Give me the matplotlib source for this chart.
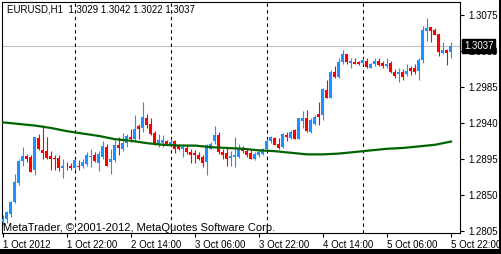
import matplotlib
matplotlib.use('Agg')
import matplotlib.pyplot as plt
import matplotlib.transforms as mtransforms
from matplotlib.patches import Rectangle
import numpy as np

plt.rcParams['font.family'] = ['Liberation Sans', 'DejaVu Sans']

# EURUSD H1, hourly bars from 1 Oct 2012 06:00 to 5 Oct 2012 22:00
opens = [
    1.2816, 1.2820, 1.2827, 1.2842, 1.2865, 1.2893, 1.2899, 1.2898, 1.2881, 1.2922,
    1.2906, 1.2905, 1.2899, 1.2896, 1.2896, 1.2884, 1.2887, 1.2887, 1.2884, 1.2887,
    1.2886, 1.2889, 1.2898, 1.2900, 1.2890, 1.2898, 1.2910, 1.2891, 1.2894, 1.2913,
    1.2908, 1.2915, 1.2923, 1.2920, 1.2936, 1.2934, 1.2947, 1.2939, 1.2928, 1.2913,
    1.2915, 1.2918, 1.2913, 1.2918, 1.2913, 1.2908, 1.2909, 1.2904, 1.2903, 1.2900,
    1.2898, 1.2891, 1.2908, 1.2918, 1.2925, 1.2904, 1.2903, 1.2896, 1.2898, 1.2898,
    1.2909, 1.2905, 1.2903, 1.2895, 1.2900, 1.2901, 1.2908, 1.2918, 1.2922, 1.2914,
    1.2910, 1.2925, 1.2922, 1.2932, 1.2920, 1.2943, 1.2947, 1.2929, 1.2939, 1.2951,
    1.2950, 1.2981, 1.2971, 1.3004, 1.2998, 1.3017, 1.3027, 1.3015, 1.3017, 1.3017,
    1.3015, 1.3018, 1.3009, 1.3014, 1.3018, 1.3015, 1.3012, 1.3015, 1.3004, 1.3002,
    1.3004, 1.3002, 1.3009, 1.3009, 1.3005, 1.3019, 1.3055, 1.3060, 1.3057, 1.3051,
    1.3028, 1.3032, 1.3029]
highs = [
    1.2825, 1.2830, 1.2843, 1.2876, 1.2895, 1.2910, 1.2901, 1.2900, 1.2923, 1.2927,
    1.2938, 1.2923, 1.2905, 1.2900, 1.2900, 1.2895, 1.2891, 1.2890, 1.2895, 1.2894,
    1.2895, 1.2904, 1.2908, 1.2904, 1.2905, 1.2918, 1.2914, 1.2908, 1.2920, 1.2923,
    1.2928, 1.2927, 1.2933, 1.2950, 1.2939, 1.2967, 1.2952, 1.2946, 1.2930, 1.2927,
    1.2925, 1.2919, 1.2920, 1.2919, 1.2914, 1.2914, 1.2913, 1.2908, 1.2906, 1.2904,
    1.2900, 1.2914, 1.2917, 1.2937, 1.2929, 1.2908, 1.2909, 1.2905, 1.2923, 1.2914,
    1.2912, 1.2908, 1.2906, 1.2904, 1.2906, 1.2909, 1.2920, 1.2924, 1.2923, 1.2922,
    1.2928, 1.2929, 1.2932, 1.2933, 1.2947, 1.2955, 1.2957, 1.2946, 1.2950, 1.2966,
    1.2984, 1.2994, 1.3007, 1.3012, 1.3022, 1.3031, 1.3027, 1.3022, 1.3022, 1.3018,
    1.3022, 1.3022, 1.3015, 1.3021, 1.3021, 1.3018, 1.3021, 1.3018, 1.3008, 1.3009,
    1.3008, 1.3014, 1.3012, 1.3014, 1.3021, 1.3062, 1.3071, 1.3060, 1.3059, 1.3052,
    1.3042, 1.3033, 1.3042]
lows = [
    1.2813, 1.2815, 1.2823, 1.2840, 1.2863, 1.2887, 1.2891, 1.2879, 1.2875, 1.2906,
    1.2895, 1.2895, 1.2881, 1.2882, 1.2880, 1.2872, 1.2882, 1.2882, 1.2882, 1.2882,
    1.2884, 1.2887, 1.2885, 1.2891, 1.2880, 1.2895, 1.2887, 1.2877, 1.2891, 1.2900,
    1.2905, 1.2910, 1.2917, 1.2918, 1.2920, 1.2929, 1.2934, 1.2925, 1.2913, 1.2910,
    1.2910, 1.2913, 1.2910, 1.2903, 1.2906, 1.2898, 1.2901, 1.2890, 1.2890, 1.2894,
    1.2885, 1.2875, 1.2908, 1.2914, 1.2901, 1.2895, 1.2887, 1.2887, 1.2885, 1.2896,
    1.2903, 1.2898, 1.2895, 1.2894, 1.2898, 1.2900, 1.2906, 1.2915, 1.2913, 1.2908,
    1.2909, 1.2918, 1.2920, 1.2920, 1.2920, 1.2934, 1.2929, 1.2928, 1.2938, 1.2938,
    1.2944, 1.2971, 1.2971, 1.2996, 1.2996, 1.3014, 1.3014, 1.3009, 1.3014, 1.3013,
    1.3014, 1.3009, 1.3009, 1.3012, 1.3012, 1.3009, 1.3009, 1.3003, 1.2996, 1.2991,
    1.2994, 1.2999, 1.3000, 1.3002, 1.2994, 1.3015, 1.3043, 1.3042, 1.3050, 1.3024,
    1.3027, 1.3013, 1.3022]
closes = [
    1.2820, 1.2829, 1.2842, 1.2866, 1.2893, 1.2899, 1.2895, 1.2879, 1.2923, 1.2908,
    1.2903, 1.2896, 1.2895, 1.2895, 1.2884, 1.2886, 1.2886, 1.2884, 1.2894, 1.2885,
    1.2891, 1.2900, 1.2899, 1.2893, 1.2901, 1.2912, 1.2887, 1.2895, 1.2913, 1.2909,
    1.2915, 1.2924, 1.2920, 1.2933, 1.2933, 1.2948, 1.2938, 1.2927, 1.2913, 1.2919,
    1.2919, 1.2914, 1.2917, 1.2908, 1.2908, 1.2910, 1.2904, 1.2900, 1.2900, 1.2895,
    1.2890, 1.2913, 1.2914, 1.2925, 1.2904, 1.2900, 1.2895, 1.2899, 1.2900, 1.2909,
    1.2905, 1.2900, 1.2895, 1.2901, 1.2904, 1.2908, 1.2918, 1.2923, 1.2913, 1.2909,
    1.2927, 1.2923, 1.2929, 1.2920, 1.2946, 1.2946, 1.2930, 1.2944, 1.2948, 1.2948,
    1.2983, 1.2972, 1.3004, 1.2998, 1.3017, 1.3026, 1.3017, 1.3018, 1.3014, 1.3014,
    1.3019, 1.3010, 1.3014, 1.3018, 1.3013, 1.3012, 1.3014, 1.3004, 1.2999, 1.3004,
    1.2998, 1.3005, 1.3005, 1.3004, 1.3019, 1.3056, 1.3059, 1.3055, 1.3050, 1.3029,
    1.3032, 1.3028, 1.3037]

# moving average, read every 4th bar
ma_idx = list(range(0, 113, 4))
ma_vals = [1.2941, 1.2939, 1.2937, 1.2934, 1.2930, 1.2927, 1.2924, 1.2920, 1.2918, 1.2915,
           1.2913, 1.2912, 1.2912, 1.2910, 1.2909, 1.2908, 1.2906, 1.2905, 1.2903, 1.2901,
           1.2901, 1.2902, 1.2904, 1.2906, 1.2908, 1.2909, 1.2911, 1.2913, 1.2917]

bid = 1.3037
separators = [18, 42, 66, 90]   # midnights
ytick_vals = [1.3075, 1.3030, 1.2985, 1.2940, 1.2895, 1.2850, 1.2805]
xtick_idx = [0, 16, 32, 48, 64, 80, 96, 112]
xtick_labels = ['1 Oct 2012', '1 Oct 22:00', '2 Oct 14:00', '3 Oct 06:00',
                '3 Oct 22:00', '4 Oct 14:00', '5 Oct 06:00', '5 Oct 22:00']

o = np.array(opens)
h = np.array(highs)
l = np.array(lows)
c = np.array(closes)
idx = np.arange(len(o))
colors = np.where(c >= o, '#1E90FF', '#FF0000')

fig = plt.figure(figsize=(5.02, 2.54), dpi=100)
fig.patch.set_facecolor('white')
ax = fig.add_axes([2/502, 21/254, 458/502, 231/254])

ax.vlines(idx, l, h, colors=colors, linewidth=0.8, zorder=3)
body_bottom = np.minimum(o, c)
body_h = np.maximum(np.abs(c - o), 0.00009)
ax.bar(idx, body_h, bottom=body_bottom, width=0.75, color=colors, linewidth=0, zorder=3)

ax.plot(ma_idx, ma_vals, color='#006400', lw=1.6, zorder=4)
ax.axhline(bid, color='#C0C0C0', lw=0.8, zorder=1)
for s in separators:
    ax.axvline(s, color='black', lw=0.8, ls=(0, (3, 3)), zorder=2)

ax.set_xlim(-0.25, 114.25)
ax.set_ylim(1.28027, 1.30915)

for sp in ax.spines.values():
    sp.set_color('black')
    sp.set_linewidth(0.8)

ax.yaxis.tick_right()
ax.set_yticks(ytick_vals)
ax.set_yticklabels(['%.4f' % v for v in ytick_vals])
ax.tick_params(axis='y', direction='out', length=3, width=0.8, pad=3, labelsize=7)
ax.set_xticks(xtick_idx)
ax.set_xticklabels(xtick_labels, ha='left')
ax.tick_params(axis='x', direction='out', length=3, width=0.8, pad=2, labelsize=7)

# bid price box on the price scale
trans = mtransforms.blended_transform_factory(ax.transAxes, ax.transData)
ax.text(1 + 4/458, bid, '%.4f' % bid, transform=trans, ha='left', va='center',
        color='white', fontsize=7, zorder=10, clip_on=False,
        bbox=dict(boxstyle='square,pad=0.2', facecolor='black', edgecolor='black'))

fig.text(7/502, 1 - 10/254, 'EURUSD,H1  1.3029 1.3042 1.3022 1.3037',
         va='center', ha='left', fontsize=7)
fig.text(3/502, 23/254, 'MetaTrader, © 2001-2012, MetaQuotes Software Corp.',
         va='baseline', ha='left', fontsize=8, zorder=10)

# window frame
fig.patches.append(Rectangle((0, 0), 1, 5/254, transform=fig.transFigure,
                             facecolor='black', edgecolor='none'))
fig.patches.append(Rectangle((499/502, 0), 3/502, 1, transform=fig.transFigure,
                             facecolor='black', edgecolor='none'))

fig.savefig('out.png', dpi=100)
